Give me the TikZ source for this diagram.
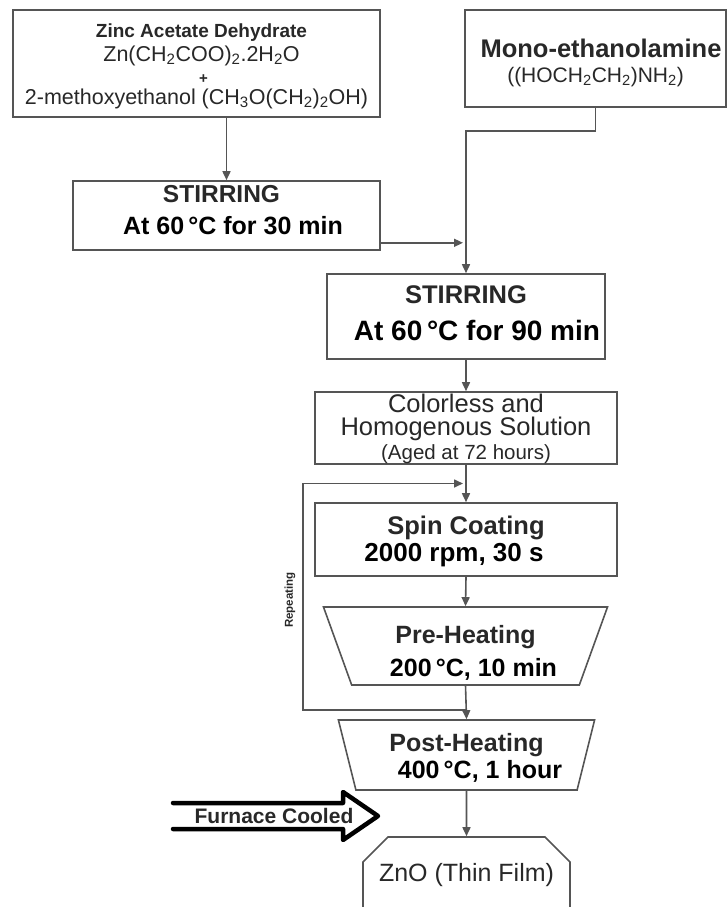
\documentclass[tikz,border=0pt]{standalone}
\usepackage{fontspec}
\setmainfont{Liberation Sans}
\definecolor{flowline}{RGB}{85,85,85}
\definecolor{flowtext}{RGB}{40,40,40}
\usetikzlibrary{arrows.meta,positioning,shapes.geometric,shapes.misc,calc}
\newcommand{\fsz}[2]{\fontsize{#1}{#2}\selectfont}
\setlength{\lineskiplimit}{-100pt}

\begin{document}
\begin{tikzpicture}[x=1pt,y=-1pt,
  box/.style={draw=flowline,line width=1.6pt,fill=white,align=center,
              inner sep=0pt,text=flowtext,text depth=0pt},
  trap/.style={box,trapezium,trapezium stretches=true},
  arr/.style={draw=flowline,line width=1.6pt,-{Triangle[length=9pt,width=8pt]}}]
  \path[use as bounding box] (0,0) rectangle (727,907);
  \clip (0,0) rectangle (727,907);

  %% Starting materials
  \node[box,minimum width=367,minimum height=107,text height=82,font=\fsz{21.5}{22.5}]
        (zinc) at (196.5,63.5)
        {\hspace*{10pt}{\bfseries\fsz{19}{22.5}Zinc Acetate Dehydrate}\\[2pt]
         \hspace*{10pt}Zn(CH\textsubscript{2}COO)\textsubscript{2}.2H\textsubscript{2}O\\[-1pt]
         \hspace*{14pt}{\bfseries\fsz{15}{22.5}+}\\[-1pt]
         2-methoxyethanol (CH\textsubscript{3}O(CH\textsubscript{2})\textsubscript{2}OH)};
  \node[box,minimum width=261,minimum height=97,text height=48,font=\fsz{21}{25}]
        (mono) at (595.5,58.5)
        {\hspace*{11pt}{\bfseries\fsz{25.5}{25}Mono-ethanolamine}\\
         ((HOCH\textsubscript{2}CH\textsubscript{2})NH\textsubscript{2})};

  %% Stirring steps
  \node[box,minimum width=307,minimum height=69,text height=37,font=\bfseries\fsz{25}{32}]
        (stir1) at (226.5,215.5)
        {{\fsz{24.5}{32}STIRRING}\hspace*{10pt}\\
         \hspace*{13pt}\textcolor{black}{At 60\,\textdegree C for 30 min}};
  \node[box,minimum width=278,minimum height=85,text height=47,font=\bfseries\fsz{28}{37}]
        (stir2) at (466,316.5)
        {{\fsz{25.5}{37}STIRRING}\\
         \hspace*{22pt}\textcolor{black}{At 60\,\textdegree C for 90 min}};

  %% Solution and film deposition
  \node[box,minimum width=302,minimum height=72,text height=62,font=\fsz{25.5}{23.5}]
        (sol) at (466,428)
        {Colorless and\\
         Homogenous Solution\\
         {\fsz{20.5}{23.5}(Aged at 72 hours)}};
  \node[box,minimum width=302,minimum height=73,text height=43,font=\bfseries\fsz{26}{27}]
        (spin) at (466,539.5)
        {{\fsz{25.5}{27}Spin Coating}\\
         \textcolor{black}{2000 rpm, 30 s}\hspace*{24pt}};
  \node[trap,trapezium left angle=110.7,trapezium right angle=110.7,
        minimum width=285,minimum height=78,text height=60,font=\bfseries\fsz{25}{33}]
        (pre) at (465.5,646)
        {{\fsz{25}{33}Pre-Heating}\\
         \hspace*{16pt}\textcolor{black}{200\,\textdegree C, 10 min}};
  \node[trap,trapezium left angle=108.2,trapezium right angle=108.2,
        minimum width=257,minimum height=70,text height=46,font=\bfseries\fsz{25}{27}]
        (post) at (466.5,755)
        {{\fsz{25}{27}Post-Heating}\\
         \hspace*{27pt}\textcolor{black}{400\,\textdegree C, 1 hour}};
  \node[box,chamfered rectangle,chamfered rectangle corners={north west,north east},
        chamfered rectangle xsep=20,chamfered rectangle ysep=17,
        minimum width=207,minimum height=72,text height=16,font=\fsz{25}{27}]
        (zno) at (466.5,873) {ZnO (Thin Film)};

  %% Connectors
  \coordinate (merge) at ($(stir2.north |- stir1.south)+(-3,-8)$);
  \coordinate (loopout) at ($(pre.south)!0.72!(post.north)$);
  \coordinate (loopin) at ($(sol.south)!0.5!(spin.north)+(-3,0)$);
  \draw[arr] (zinc.south -| stir1.north) -- (stir1.north);
  \draw[arr] (mono.south) -- ++(0,23) -| (stir2.north);
  \draw[arr] (stir1.east |- merge) -- (merge);
  \draw[arr] (stir2.south) -- (sol.north);
  \draw[arr] (sol.south) -- (spin.north);
  \draw[arr] (spin.south) -- (pre.north);
  \draw[arr] (pre.south) -- (post.north);
  \draw[arr] (post.south) -- (zno.north);
  \draw[arr] (loopout) -- ++(-163,0) |- (loopin);
  \node[font=\bfseries\fsz{11.5}{13},text=flowtext,rotate=90] (rep) at (290,600) {Repeating};

  %% Furnace cooling
  \draw[line width=4.5pt,line join=round,line cap=round]
        (173,803) -- (343,803) -- (343,792) -- (378,816)
        -- (343,840) -- (343,829) -- (173,829);
  \node[font=\bfseries\fsz{21}{22},text=flowtext] (furnace) at (274,816) {Furnace Cooled};
\end{tikzpicture}
\end{document}
